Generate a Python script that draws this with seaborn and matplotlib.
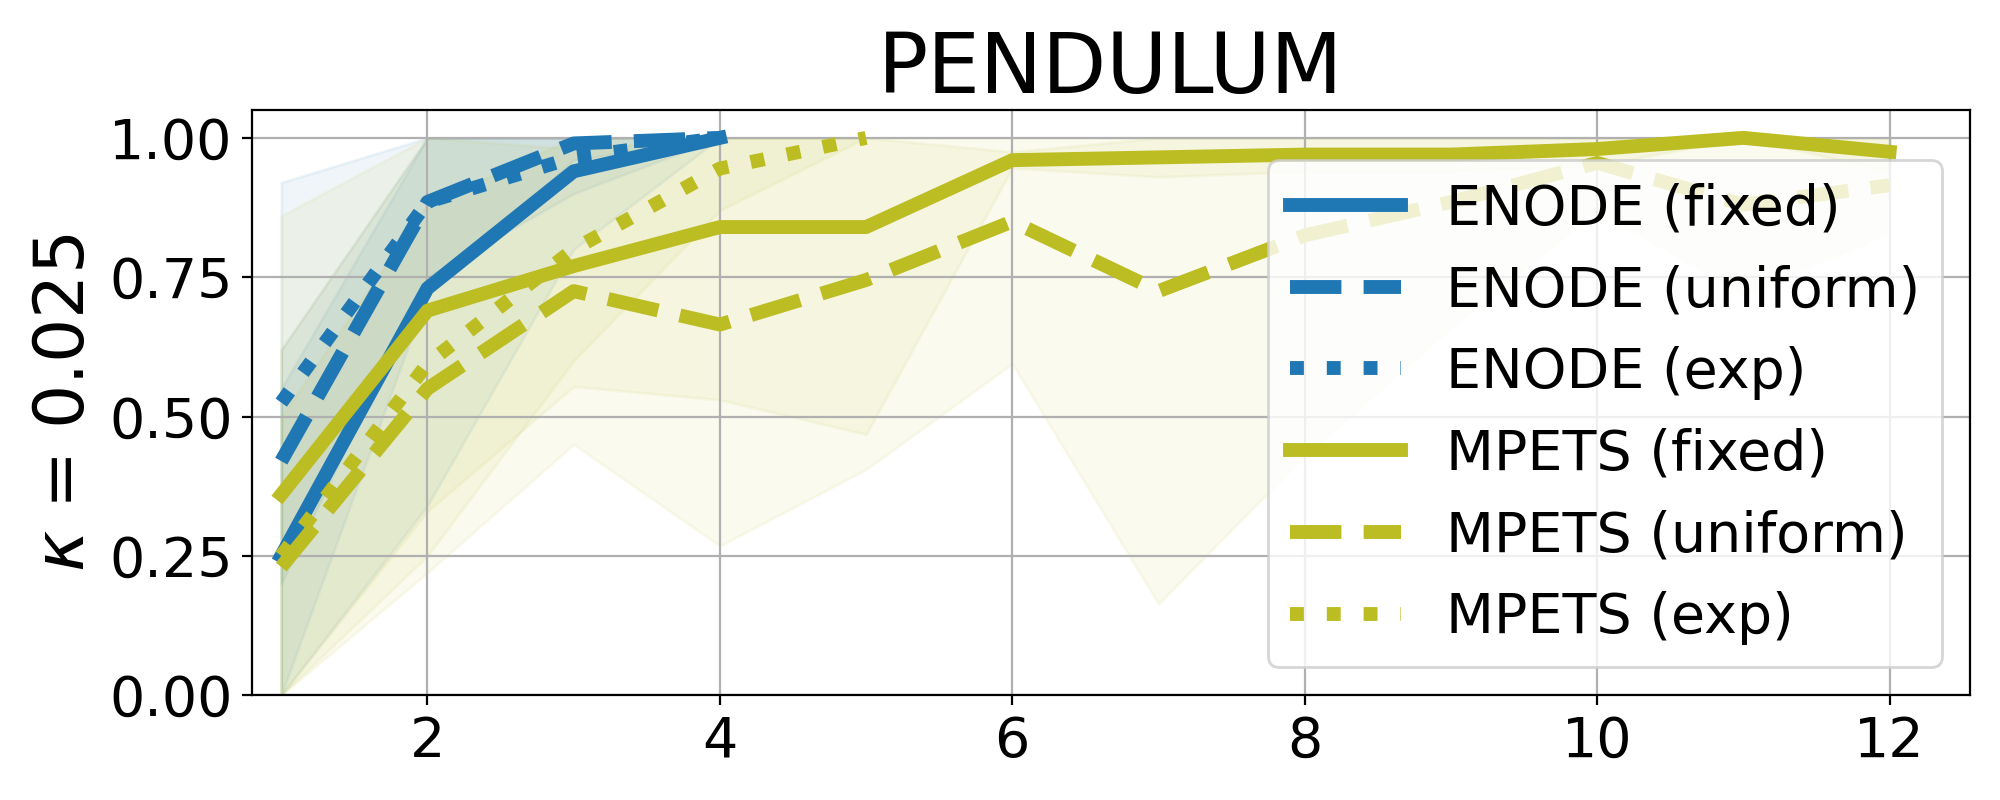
import numpy as np
import pandas as pd
import matplotlib
matplotlib.use("Agg")
import matplotlib.pyplot as plt
import seaborn as sns

# ----------------------------------------------------------
# Data
# ----------------------------------------------------------

steps_enode = [1, 2, 3, 4]
steps_mpets = [1, 2, 3, 4, 5, 6, 7, 8, 9, 10, 11, 12]
steps_mpets_exp = [1, 2, 3, 4, 5]

enode_fixed = [0.25, 0.73, 0.94, 1.0]
enode_fixed_lo = [0.0, 0.34, 0.80, 1.0]
enode_fixed_hi = [0.55, 1.0, 1.0, 1.0]

enode_uniform = [0.42, 0.885, 0.99, 1.0]
enode_uniform_lo = [0.0, 0.72, 0.96, 1.0]
enode_uniform_hi = [0.92, 1.0, 1.0, 1.0]

enode_exp = [0.525, 0.885, 0.965, 1.0]
enode_exp_lo = [0.2, 0.75, 0.90, 1.0]
enode_exp_hi = [0.62, 1.0, 1.0, 1.0]

mpets_fixed = [0.36, 0.69, 0.77, 0.84, 0.84, 0.96, 0.965, 0.97, 0.97, 0.98, 1.0, 0.975]
mpets_fixed_lo = [0.0, 0.33, 0.554, 0.53, 0.468, 0.946, 0.93, 0.94, 0.94, 0.95, 1.0, 0.94]
mpets_fixed_hi = [0.86, 1.0, 0.98, 1.0, 1.0, 0.975, 1.0, 1.0, 1.0, 1.0, 1.0, 1.0]

mpets_uniform = [0.23, 0.55, 0.725, 0.665, 0.745, 0.85, 0.725, 0.825, 0.885, 0.955, 0.88, 0.915]
mpets_uniform_lo = [0.0, 0.22, 0.45, 0.268, 0.405, 0.595, 0.164, 0.43, 0.66, 0.87, 0.72, 0.83]
mpets_uniform_hi = [0.5, 0.88, 1.0, 1.0, 1.0, 1.0, 1.0, 1.0, 1.0, 1.0, 1.0, 1.0]

mpets_exp = [0.25, 0.595, 0.80, 0.945, 1.0]
mpets_exp_lo = [0.0, 0.25, 0.60, 0.87, 1.0]
mpets_exp_hi = [0.62, 1.0, 1.0, 1.0, 1.0]

BLUE = "#1f77b4"
OLIVE = "#bcbd22"

series = [
    ("ENODE (fixed)", steps_enode, enode_fixed, enode_fixed_lo, enode_fixed_hi, BLUE, "-"),
    ("ENODE (uniform)", steps_enode, enode_uniform, enode_uniform_lo, enode_uniform_hi, BLUE, "--"),
    ("ENODE (exp)", steps_enode, enode_exp, enode_exp_lo, enode_exp_hi, BLUE, ":"),
    ("MPETS (fixed)", steps_mpets, mpets_fixed, mpets_fixed_lo, mpets_fixed_hi, OLIVE, "-"),
    ("MPETS (uniform)", steps_mpets, mpets_uniform, mpets_uniform_lo, mpets_uniform_hi, OLIVE, "--"),
    ("MPETS (exp)", steps_mpets_exp, mpets_exp, mpets_exp_lo, mpets_exp_hi, OLIVE, ":"),
]

# ----------------------------------------------------------
# Plot
# ----------------------------------------------------------

fig = plt.figure(figsize=(10, 4), dpi=200)
ax = fig.add_subplot(111)
fig.subplots_adjust(left=0.126, right=0.985, bottom=0.131, top=0.8625)

for label, x, y, lo, hi, color, ls in series:
    df = pd.DataFrame({"x": x, "y": y})
    sns.lineplot(data=df, x="x", y="y", ax=ax, color=color, linestyle=ls,
                 linewidth=5, label=label, estimator=None)
    ax.fill_between(x, lo, hi, color=color, alpha=0.07)

ax.set_xlim(0.8, 12.55)
ax.set_ylim(0, 1.05)
ax.set_xticks([2, 4, 6, 8, 10, 12])
ax.set_yticks([0.0, 0.25, 0.5, 0.75, 1.0])
ax.yaxis.set_major_formatter(matplotlib.ticker.FormatStrFormatter("%.2f"))
ax.tick_params(labelsize=20)
ax.grid(True)
ax.set_xlabel("")
ax.set_ylabel(r"$\kappa$ = 0.025", fontsize=25)
ax.set_title("PENDULUM", fontsize=30)
ax.legend(loc="lower right", fontsize=20)

fig.savefig("out.png", dpi=200)
